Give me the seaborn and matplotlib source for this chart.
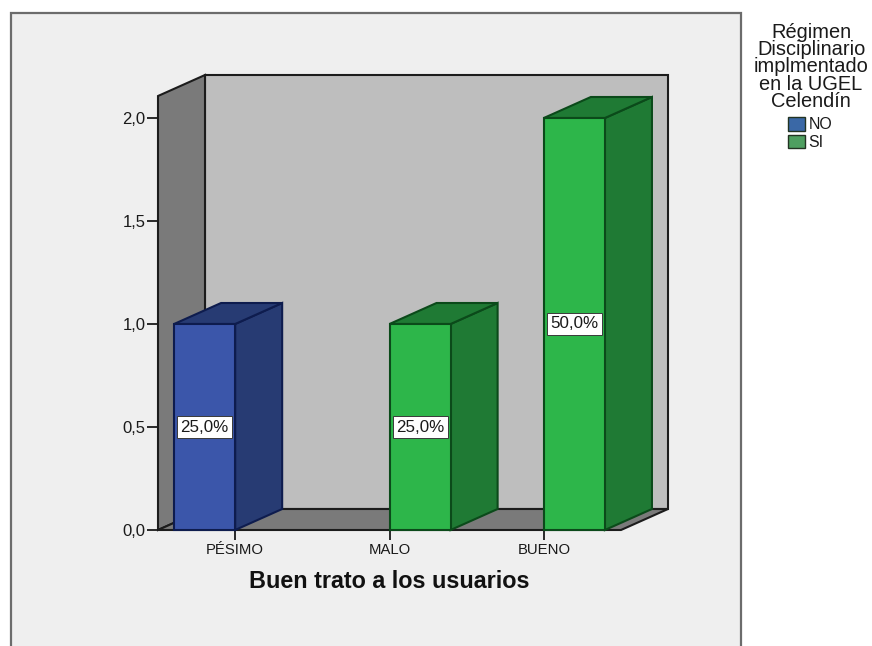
import matplotlib
matplotlib.use("Agg")
import matplotlib.pyplot as plt
import pandas as pd
import seaborn as sns
from matplotlib.colors import to_hex
from matplotlib.patches import Patch, Polygon, Rectangle
from matplotlib.transforms import IdentityTransform

# Counts by rating and by whether the disciplinary regime was implemented
categories = ["PÉSIMO", "MALO", "BUENO"]
groups = ["NO", "SI"]
rating_rows = ["PÉSIMO", "MALO", "BUENO"]
group_rows = ["NO", "SI", "SI"]
counts = [1.0, 1.0, 2.0]
y_ticks = [0.0, 0.5, 1.0, 1.5, 2.0]
x_title = "Buen trato a los usuarios"
legend_title = "Régimen\nDisciplinario\nimplmentado\nen la UGEL\nCelendín"

W, H = 872, 646
DEPTH_X, DEPTH_Y = 47, 21  # oblique projection offset, in pixels
FRONT = {"NO": "#3B56AA", "SI": "#2DB64A"}
SHADE = {"NO": "#273B73", "SI": "#1F7A34"}
EDGE = {"NO": "#0E1C4E", "SI": "#0B4A1A"}
SWATCH = {"NO": "#3A68A6", "SI": "#4E9F60"}
GROUP_OF_COLOR = {v: k for k, v in FRONT.items()}

sns.set_style("white")
plt.rcParams["font.family"] = ["Liberation Sans", "DejaVu Sans"]

fig = plt.figure(figsize=(W / 100, H / 100), dpi=100, facecolor="white")

# Light chart panel; it runs off the bottom of the figure
fig.add_artist(Rectangle((11 / W, 1 - 680 / H), 730 / W, 667 / H,
                         transform=fig.transFigure, facecolor="#EFEFEF",
                         edgecolor="#6C6C6C", linewidth=1.6, zorder=-5))

ax = fig.add_axes([158 / W, 1 - 530 / H, 463 / W, 434 / H])
ax.patch.set_alpha(0)
df = pd.DataFrame({"rating": rating_rows, "group": group_rows, "count": counts})
sns.barplot(data=df, x="rating", y="count", hue="group", order=categories,
            hue_order=groups, palette=FRONT, saturation=1, width=0.792, gap=0,
            dodge=True, legend=False, errorbar=None, ax=ax)
ax.set_xlim(-0.5, 2.5)
ax.set_ylim(0, 434 / 206)
ax.set_yticks(y_ticks, [f"{v:.1f}".replace(".", ",") for v in y_ticks])
sns.despine(ax=ax, left=True, bottom=True, top=True, right=True)
ax.tick_params(axis="y", length=8, width=1.3, color="#1a1a1a", pad=1,
               labelsize=12, labelcolor="#1a1a1a", left=True)
ax.tick_params(axis="x", length=7, width=1.3, color="#1a1a1a", pad=2,
               labelsize=10.7, labelcolor="#1a1a1a", bottom=True)
ax.set_xlabel(x_title, fontsize=16.8, fontweight="bold", color="#111111", labelpad=10)
ax.set_ylabel("")


def face(points, color, edge, lw=1.5, z=1):
    ax.add_patch(Polygon(points, closed=True, transform=IdentityTransform(),
                         facecolor=color, edgecolor=edge, linewidth=lw,
                         joinstyle="miter", clip_on=False, zorder=z))


# Back wall, side wall and floor of the chart box
x0, y0 = ax.transData.transform((ax.get_xlim()[0], 0))
x1, y1 = ax.transData.transform((ax.get_xlim()[1], ax.get_ylim()[1]))
dx, dy = DEPTH_X, DEPTH_Y
bars = list(ax.patches)
face([(x0 + dx, y0 + dy), (x1 + dx, y0 + dy), (x1 + dx, y1 + dy), (x0 + dx, y1 + dy)],
     "#BEBEBE", "#1c1c1c", z=0.2)
face([(x0, y0), (x0 + dx, y0 + dy), (x0 + dx, y1 + dy), (x0, y1)],
     "#7A7A7A", "#1c1c1c", z=0.3)
face([(x0, y0), (x1, y0), (x1 + dx, y0 + dy), (x0 + dx, y0 + dy)],
     "#7A7A7A", "#1c1c1c", z=0.3)

# Give each bar its shaded side and top, and print its share of the total
total = sum(counts)
for bar in bars:
    if not bar.get_height() > 0:
        continue
    group = GROUP_OF_COLOR[to_hex(bar.get_facecolor()).upper()]
    bx0, by0 = ax.transData.transform((bar.get_x(), 0))
    bx1, by1 = ax.transData.transform((bar.get_x() + bar.get_width(), bar.get_height()))
    face([(bx1, by0), (bx1 + dx, by0 + dy), (bx1 + dx, by1 + dy), (bx1, by1)],
         SHADE[group], EDGE[group], z=3)
    face([(bx0, by1), (bx1, by1), (bx1 + dx, by1 + dy), (bx0 + dx, by1 + dy)],
         SHADE[group], EDGE[group], z=3)
    bar.set_edgecolor(EDGE[group])
    bar.set_linewidth(1.5)
    bar.set_zorder(4)
    bar.set_clip_on(False)
    share = f"{bar.get_height() / total * 100:.1f}%".replace(".", ",")
    ax.text(bar.get_x() + bar.get_width() / 2, bar.get_height() / 2, share,
            ha="center", va="center", fontsize=12.2, color="#1a1a1a", zorder=6,
            bbox=dict(boxstyle="square,pad=0.2", facecolor="white",
                      edgecolor="#3a3a3a", linewidth=0.7))

# Legend heading set apart from the swatches so both can be spaced freely
fig.text(811 / W, 1 - 23 / H, legend_title, ha="center", va="top",
         multialignment="center", fontsize=14.4, linespacing=0.88, color="#1a1a1a")
handles = [Patch(facecolor=SWATCH[g], edgecolor="#223322", linewidth=1.0, label=g)
           for g in groups]
fig.legend(handles=handles, frameon=False, loc="upper left",
           bbox_to_anchor=(788 / W, 1 - 117 / H), fontsize=11.4,
           handlelength=1.08, handleheight=0.95, handletextpad=0.22,
           labelspacing=0.15, borderpad=0, borderaxespad=0, labelcolor="#1a1a1a")

fig.savefig("out.png", dpi=100)
